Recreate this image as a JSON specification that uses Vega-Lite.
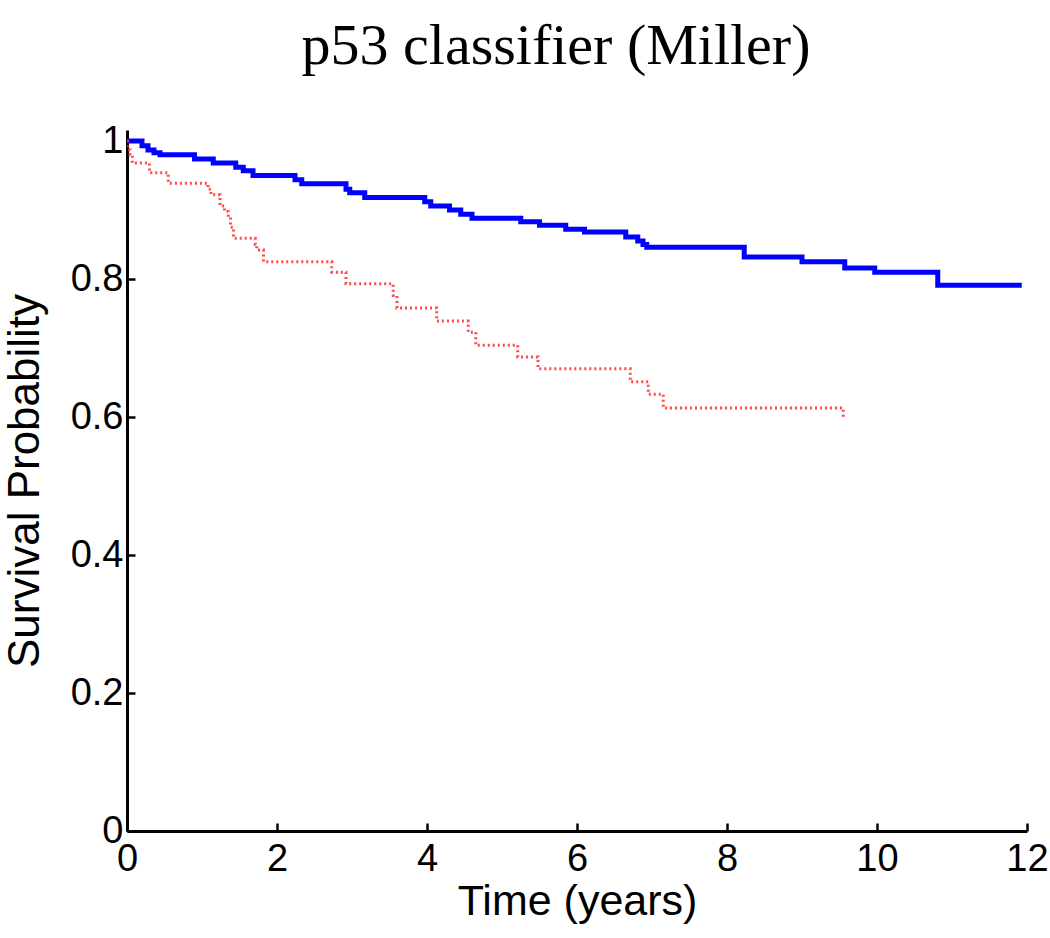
{
  "$schema": "https://vega.github.io/schema/vega-lite/v6.json",
  "width": 900,
  "height": 701,
  "autosize": "none",
  "padding": {"left": 127, "top": 130, "right": 23, "bottom": 107},
  "background": "white",
  "title": {
    "text": "p53 classifier (Miller)",
    "font": "Liberation Serif",
    "fontSize": 58,
    "fontWeight": "normal",
    "color": "black",
    "anchor": "middle",
    "baseline": "alphabetic",
    "offset": 0,
    "dx": -21
  },
  "data": {
    "values": [
      {"group": "blue", "t": 0, "s": 1.0},
      {"group": "blue", "t": 0.2, "s": 0.993},
      {"group": "blue", "t": 0.28, "s": 0.987},
      {"group": "blue", "t": 0.36, "s": 0.983},
      {"group": "blue", "t": 0.44, "s": 0.98},
      {"group": "blue", "t": 0.9, "s": 0.974},
      {"group": "blue", "t": 1.15, "s": 0.968},
      {"group": "blue", "t": 1.45, "s": 0.962},
      {"group": "blue", "t": 1.55, "s": 0.957},
      {"group": "blue", "t": 1.68, "s": 0.95},
      {"group": "blue", "t": 2.24, "s": 0.944},
      {"group": "blue", "t": 2.33, "s": 0.938},
      {"group": "blue", "t": 2.92, "s": 0.93},
      {"group": "blue", "t": 2.97, "s": 0.925},
      {"group": "blue", "t": 3.17, "s": 0.918},
      {"group": "blue", "t": 3.97, "s": 0.912},
      {"group": "blue", "t": 4.05, "s": 0.906},
      {"group": "blue", "t": 4.3, "s": 0.9},
      {"group": "blue", "t": 4.45, "s": 0.894},
      {"group": "blue", "t": 4.6, "s": 0.888},
      {"group": "blue", "t": 5.25, "s": 0.883},
      {"group": "blue", "t": 5.5, "s": 0.878},
      {"group": "blue", "t": 5.85, "s": 0.872},
      {"group": "blue", "t": 6.1, "s": 0.868},
      {"group": "blue", "t": 6.65, "s": 0.861},
      {"group": "blue", "t": 6.81, "s": 0.855},
      {"group": "blue", "t": 6.88, "s": 0.85},
      {"group": "blue", "t": 6.93, "s": 0.846},
      {"group": "blue", "t": 8.23, "s": 0.832},
      {"group": "blue", "t": 9.0, "s": 0.825},
      {"group": "blue", "t": 9.57, "s": 0.816},
      {"group": "blue", "t": 9.97, "s": 0.81},
      {"group": "blue", "t": 10.81, "s": 0.791},
      {"group": "blue", "t": 11.93, "s": 0.791},
      {"group": "red", "t": 0, "s": 1.0},
      {"group": "red", "t": 0.01, "s": 0.987},
      {"group": "red", "t": 0.04, "s": 0.98},
      {"group": "red", "t": 0.07, "s": 0.968},
      {"group": "red", "t": 0.3, "s": 0.954},
      {"group": "red", "t": 0.55, "s": 0.939},
      {"group": "red", "t": 1.08, "s": 0.93},
      {"group": "red", "t": 1.12, "s": 0.922},
      {"group": "red", "t": 1.24, "s": 0.906},
      {"group": "red", "t": 1.3, "s": 0.898},
      {"group": "red", "t": 1.35, "s": 0.89},
      {"group": "red", "t": 1.38, "s": 0.875},
      {"group": "red", "t": 1.42, "s": 0.859},
      {"group": "red", "t": 1.71, "s": 0.85},
      {"group": "red", "t": 1.73, "s": 0.842},
      {"group": "red", "t": 1.82, "s": 0.825},
      {"group": "red", "t": 2.73, "s": 0.81},
      {"group": "red", "t": 2.92, "s": 0.793},
      {"group": "red", "t": 3.55, "s": 0.776},
      {"group": "red", "t": 3.6, "s": 0.758},
      {"group": "red", "t": 4.13, "s": 0.739},
      {"group": "red", "t": 4.55, "s": 0.723},
      {"group": "red", "t": 4.65, "s": 0.704},
      {"group": "red", "t": 5.21, "s": 0.687},
      {"group": "red", "t": 5.48, "s": 0.67},
      {"group": "red", "t": 6.71, "s": 0.651},
      {"group": "red", "t": 6.95, "s": 0.633},
      {"group": "red", "t": 7.15, "s": 0.613},
      {"group": "red", "t": 9.55, "s": 0.599},
      {"group": "red", "t": 9.57, "s": 0.599}
    ]
  },
  "config": {
    "view": {"stroke": null},
    "axis": {
      "grid": false,
      "domainColor": "black",
      "domainWidth": 3,
      "tickColor": "black",
      "tickWidth": 2.5,
      "tickSize": -8,
      "labelFont": "Liberation Sans",
      "labelFontSize": 38,
      "labelColor": "black",
      "titleFont": "Liberation Sans",
      "titleFontSize": 43,
      "titleFontWeight": "normal",
      "titleColor": "black"
    }
  },
  "layer": [
    {
      "transform": [{"filter": "datum.group === 'blue'"}],
      "mark": {"type": "line", "interpolate": "step-after", "color": "#0000ff", "strokeWidth": 5, "clip": true},
      "encoding": {
        "x": {"field": "t", "type": "quantitative", "scale": {"domain": [0, 12], "nice": false, "zero": false},
          "axis": {"values": [0, 2, 4, 6, 8, 10, 12], "format": "d", "title": "Time (years)", "labelPadding": 17, "titlePadding": 2, "labelFlush": false}},
        "y": {"field": "s", "type": "quantitative", "scale": {"domain": [0, 1.016], "nice": false},
          "axis": {"values": [0, 0.2, 0.4, 0.6, 0.8, 1], "format": "~g", "title": "Survival Probability", "titleFontSize": 44, "labelPadding": 12, "titlePadding": 23}}
      }
    },
    {
      "transform": [{"filter": "datum.group === 'red'"}],
      "mark": {"type": "line", "interpolate": "step-after", "color": "#ff2a2a", "strokeWidth": 3, "strokeDash": [2, 3], "opacity": 0.85, "clip": true},
      "encoding": {
        "x": {"field": "t", "type": "quantitative"},
        "y": {"field": "s", "type": "quantitative"}
      }
    }
  ]
}
